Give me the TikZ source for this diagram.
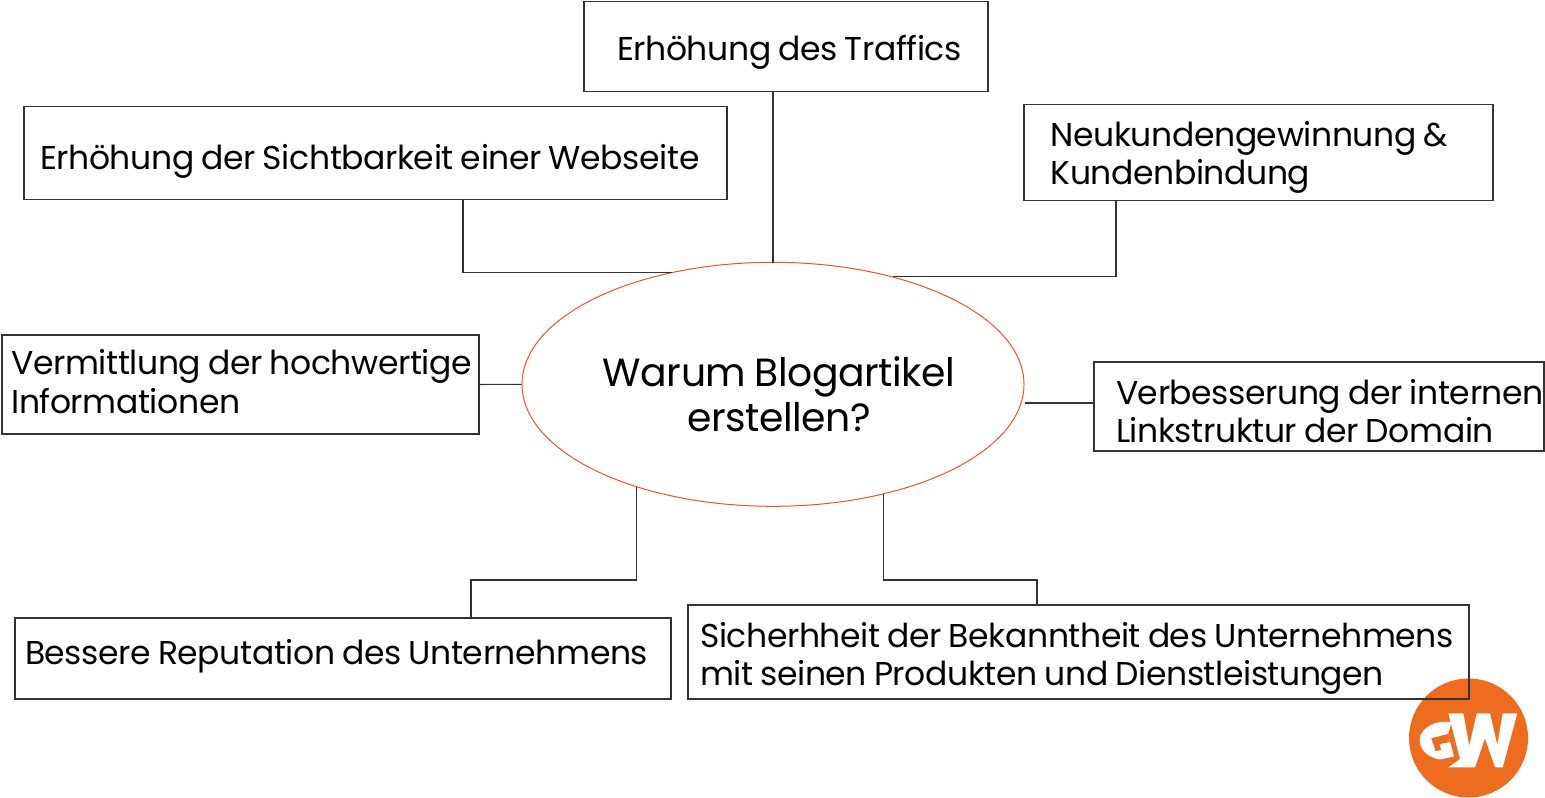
\documentclass[tikz,border=0pt]{standalone}
\usepackage{fontspec}
\setmainfont[LetterSpace=-1.2,WordSpace=0.85]{Poppins}
\usetikzlibrary{shapes.geometric}
\definecolor{gworange}{HTML}{EE6C1E}
\definecolor{ringred}{HTML}{E8562A}
\newcommand{\pad}[1]{\hspace*{#1pt}}
\tikzset{
  infobox/.style = {shape=rectangle, draw=black!80, line width=0.8pt, align=flush left,
                    inner sep=0pt, font=\fontsize{24.75}{28.5}\selectfont},
  topic/.style   = {shape=ellipse, draw=ringred, line width=0.75pt, align=center,
                    inner sep=0pt, minimum width=376.5pt, minimum height=183pt,
                    font=\fontsize{29.5}{34}\selectfont},
  link/.style    = {draw=black!80, line width=0.8pt}
}
\begin{document}
\begin{tikzpicture}[x=0.75pt, y=-0.75pt]
  \useasboundingbox (0,0) rectangle (1545,798);
  \fill [gworange] (1468.5,738) circle [radius=59.5];
  \fill [white] (1451.7,722.3) .. controls (1440,720) and (1426,724) .. (1420.5,735)
    .. controls (1417,745) and (1424,757) .. (1440,759.5) -- (1454,756.5) -- (1448,734) -- cycle;
  \fill [gworange] (1431.3,738.3) -- (1448,734) -- (1450,742) -- (1439.5,744) -- (1441,750) -- (1435.5,751) -- cycle;
  \fill [white] (1448.3,713.3) -- (1463.3,713.3) -- (1469.3,746) -- (1476.7,713.3) -- (1490,713.3)
    -- (1497.3,745) -- (1502.7,713.3) -- (1517.3,713.3) -- (1502.7,767.3) -- (1495,767.3)
    -- (1485,738.3) -- (1475,767.3) -- (1448.3,767.3) -- (1460,759) -- cycle;
  % boxes
  \node [infobox, text height=44.25pt, text depth=23.25pt, text width=303pt] (traffic) at (786,46.2) {\pad{24.75}Erhöhung des Traffics};
  \node [infobox, text height=47.25pt, text depth=22.5pt, text width=527.25pt] (sicht) at (375.5,152.7) {\pad{12}Erhöhung der Sichtbarkeit einer Webseite};
  \node [infobox, text height=31.5pt, text depth=40.5pt, text width=351.75pt] (kunden) at (1258.5,152.4) {\pad{20}Neukundengewinnung \&\\\pad{20}Kundenbindung};
  \node [infobox, text height=30pt, text depth=44.25pt, text width=357.75pt] (vermittlung) at (240.5,384.5) {\pad{7}Vermittlung der hochwertige\\\pad{7}Informationen};
  \node [infobox, text height=31.5pt, text depth=35.25pt, text width=337.5pt] (link) at (1319,406.5) {\pad{16.5}Verbesserung der internen\\\pad{16.5}Linkstruktur der Domain};
  \node [infobox, text height=34.5pt, text depth=26.25pt, text width=492pt] (reputation) at (343,658.5) {\pad{7.5}Bessere Reputation des Unternehmens};
  \node [infobox, text height=31.5pt, text depth=39pt, text width=585.75pt] (bekannt) at (1078.5,652) {\pad{9}Sicherhheit der Bekanntheit des Unternehmens\\\pad{9}mit seinen Produkten und Dienstleistungen};
  \node [topic, text height=73pt, text depth=2pt] (blog) at (773,384.3) {\hspace*{4.5pt}Warum Blogartikel\hspace*{-4.5pt}\\\hspace*{4.5pt}erstellen?\hspace*{-4.5pt}};
  % connectors
  \coordinate (sichtfoot) at (463,199);
  \coordinate (kundenfoot) at (1116,200);
  \coordinate (repfoot) at (471,618);
  \coordinate (bekanntfoot) at (1037,605);
  \coordinate (trafficfoot) at (773,91);
  \coordinate (blogtop) at (773,263);
  \coordinate (linkside) at (1094,403);
  \coordinate (blogright) at (1025,403);
  \draw [link] (sichtfoot) |- (blog.132);
  \draw [link] (trafficfoot) -- (blogtop);
  \draw [link] (kundenfoot) |- (blog.42);
  \draw [link] (vermittlung.east) -- (blog.west);
  \draw [link] (linkside) -- (blogright);
  \draw [link] (blog.217) |- (471,580) -- (repfoot);
  \draw [link] (blog.-45) |- (1037,580) -- (bekanntfoot);
\end{tikzpicture}
\end{document}
